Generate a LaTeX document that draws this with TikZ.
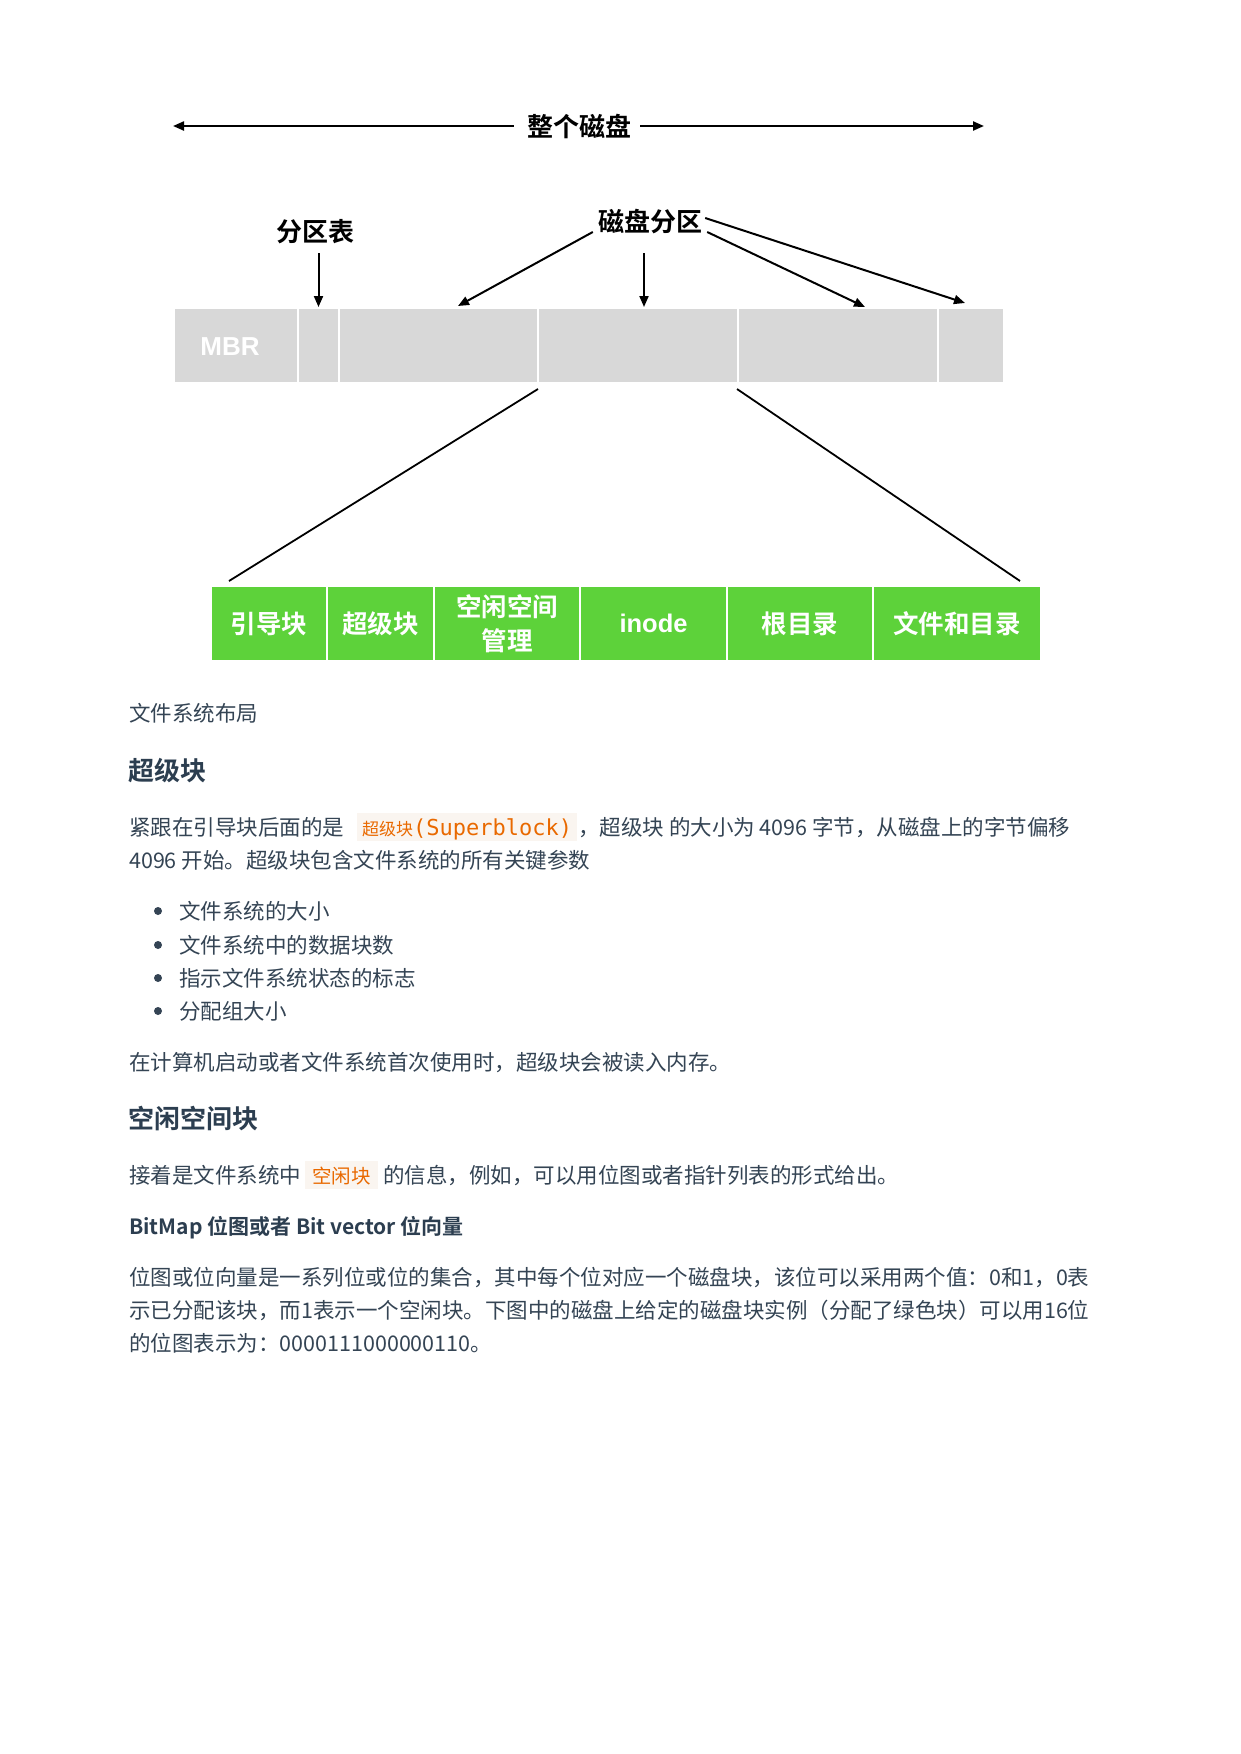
\documentclass[tikz,border=0pt]{standalone}
\usepackage{fontspec}
\setmainfont{Noto Sans CJK SC}[BoldFont={Noto Sans CJK SC Bold}]
\newfontfamily\codefont{DejaVu Sans Mono}
\newfontfamily\helv{Liberation Sans}
\usetikzlibrary{arrows.meta,calc}
\definecolor{cellgray}{RGB}{216,216,216}
\definecolor{cellgreen}{RGB}{93,210,58}
\definecolor{bodytext}{RGB}{52,68,84}
\definecolor{headtext}{RGB}{44,62,80}
\definecolor{codeorange}{RGB}{233,105,0}
\definecolor{codebg}{RGB}{250,245,240}
\begin{document}
\begin{tikzpicture}[x=1pt,y=-1pt,
  gcell/.style={draw=white,line width=2pt,fill=cellgray,minimum height=75pt,inner sep=0pt,anchor=north west},
  grcell/.style={draw=white,line width=2pt,fill=cellgreen,minimum height=75pt,inner sep=0pt,anchor=north west,text=white,font=\fontsize{25.5}{34}\selectfont\bfseries,align=center},
  lbl/.style={font=\fontsize{26}{30}\selectfont\bfseries,inner sep=0pt,text=black},
  arr/.style={line width=2pt,-{Triangle[length=11pt,width=9pt]}},
  darr/.style={line width=2.2pt,{Triangle[length=11pt,width=9pt]}-},
  ln/.style={line width=1.8pt},
  body/.style={anchor=base west,inner sep=0pt,text=bodytext,font=\fontsize{21.5}{26}\selectfont},
  head/.style={anchor=base west,inner sep=0pt,text=headtext,font=\fontsize{26}{30}\selectfont\bfseries},
  code/.style={anchor=base west,inner xsep=5pt,inner ysep=0pt,fill=codebg,text=codeorange,text height=22pt,text depth=6pt,font=\fontsize{22}{26}\selectfont\codefont},
]
\useasboundingbox (0,0) rectangle (1240,1754);
\fill[white] (0,0) rectangle (1240,1754);

% whole disk arrow
\node[lbl] (whole) at (579,126) {整个磁盘};
\coordinate (dl) at (173,126);
\coordinate (dr) at (984,126);
\draw[darr] (dl) -- ($(whole.west)+(-13,0)$);
\draw[darr] (dr) -- ($(whole.east)+(9,0)$);

% gray disk bar
\node[gcell,minimum width=124pt] (g1) at (173,307) {};
\node[gcell,minimum width=41pt] (g2) at (297,307) {};
\node[gcell,minimum width=199pt] (g3) at (338,307) {};
\node[gcell,minimum width=200pt] (g4) at (537,307) {};
\node[gcell,minimum width=200pt] (g5) at (737,307) {};
\node[gcell,minimum width=66pt] (g6) at (937,307) {};
\node[inner sep=0pt,text=white,font=\fontsize{26}{30}\selectfont\helv\bfseries] (mbr) at (230,347) {MBR};

% labels and arrows
\node[lbl] (pt) at (315,232) {分区表};
\draw[arr] ($(g2.north)+(0,-54)$) -- (g2.north);
\node[lbl] (dp) at (650,222) {磁盘分区};
\draw[arr] ($(dp.west)+(-5,10)$) -- ($(g3.north west)+(120,-1)$);
\draw[arr] ($(g4.north west)+(107,-54)$) -- ($(g4.north west)+(107,0)$);
\draw[arr] ($(dp.east)+(5,10)$) -- ($(g5.north west)+(128,0)$);
\draw[arr] ($(dp.east)+(3,-4)$) -- ($(g6.north west)+(28,-4)$);

% green file system bar
\node[grcell,minimum width=116pt] (gr1) at (210,585) {引导块};
\node[grcell,minimum width=107pt] (gr2) at (326,585) {超级块};
\node[grcell,minimum width=146pt] (gr3) at (433,585) {空闲空间\\管理};
\node[grcell,minimum width=147pt] (gr4) at (579,585) {{\helv inode}};
\node[grcell,minimum width=146pt] (gr5) at (726,585) {根目录};
\node[grcell,minimum width=168pt] (gr6) at (872,585) {文件和目录};

\draw[ln] ($(g4.south west)+(1,5)$) -- ($(gr1.north west)+(19,-4)$);
\draw[ln] ($(g5.south west)+(0,5)$) -- ($(gr6.north east)+(-22,-4)$);

% text
\node[body] (cap) at (129,721) {文件系统布局};
\node[head] (h1) at (128,780) {超级块};
\node[body] (p1a) at (129,835) {紧跟在引导块后面的是};
\node[code] (c1) at (357,835) {{\normalfont\fontsize{17}{20}\selectfont 超级块}(Superblock)};
\node[body] (p1b) at (578,835) {，超级块 的大小为 4096 字节，从磁盘上的字节偏移};
\node[body] (p1c) at (129,868) {4096 开始。超级块包含文件系统的所有关键参数};

\fill[bodytext] (158,911) circle (4);
\fill[bodytext] (158,945) circle (4);
\fill[bodytext] (158,978) circle (4);
\fill[bodytext] (158,1011) circle (4);
\node[body] (b1) at (179,919) {文件系统的大小};
\node[body] (b2) at (179,953) {文件系统中的数据块数};
\node[body] (b3) at (179,986) {指示文件系统状态的标志};
\node[body] (b4) at (179,1019) {分配组大小};

\node[body] (p2) at (129,1070) {在计算机启动或者文件系统首次使用时，超级块会被读入内存。};
\node[head] (h2) at (128,1128) {空闲空间块};
\node[body] (p3a) at (129,1183) {接着是文件系统中};
\node[code,inner xsep=7pt] (c2) at (305,1183) {{\normalfont\fontsize{19.5}{24}\selectfont 空闲块}};
\node[body] (p3b) at (383,1183) {的信息，例如，可以用位图或者指针列表的形式给出。};
\node[head,font=\fontsize{21}{26}\selectfont\bfseries] (h3) at (129,1234) {BitMap 位图或者 Bit vector 位向量};
\node[body] (p4a) at (129,1285) {位图或位向量是一系列位或位的集合，其中每个位对应一个磁盘块，该位可以采用两个值：0和1，0表};
\node[body] (p4b) at (129,1318) {示已分配该块，而1表示一个空闲块。下图中的磁盘上给定的磁盘块实例（分配了绿色块）可以用16位};
\node[body] (p4c) at (129,1351) {的位图表示为：0000111000000110。};
\end{tikzpicture}
\end{document}
